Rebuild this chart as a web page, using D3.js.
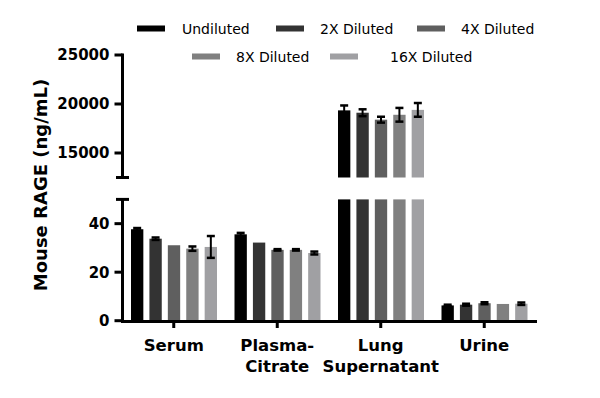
<!DOCTYPE html>
<html>
<head>
<meta charset="utf-8">
<script src="https://cdn.jsdelivr.net/npm/d3@7"></script>
<style>
  body { margin: 0; background: #fff; }
  svg { font-family: "DejaVu Sans", sans-serif; }
</style>
</head>
<body>
<div id="chart"></div>
<script>
'use strict';

var categories = ['Serum', 'Plasma-Citrate', 'Lung Supernatant', 'Urine'];
var categoryLines = [['Serum'], ['Plasma-', 'Citrate'], ['Lung', 'Supernatant'], ['Urine']];
var seriesNames = ['Undiluted', '2X Diluted', '4X Diluted', '8X Diluted', '16X Diluted'];
var seriesColors = ['#000000', '#333333', '#5f5f5f', '#808080', '#a0a0a3'];

var undiluted = [37.7, 35.6, 19350, 6.3];
var diluted2x = [33.8, 32.2, 19110, 6.6];
var diluted4x = [31.1, 29.2, 18400, 7.2];
var diluted8x = [29.7, 29.2, 18900, 6.9];
var diluted16x = [30.4, 27.9, 19400, 7.0];

var undilutedErr = [0.5, 0.6, 500, 0.3];
var diluted2xErr = [0.5, 0, 350, 0.4];
var diluted4xErr = [0, 0.3, 300, 0.4];
var diluted8xErr = [0.9, 0.3, 700, 0];
var diluted16xErr = [4.5, 0.6, 700, 0.5];

var lowTicks = [0, 20, 40];
var highTicks = [15000, 20000, 25000];

var seriesValues = [undiluted, diluted2x, diluted4x, diluted8x, diluted16x];
var seriesErrors = [undilutedErr, diluted2xErr, diluted4xErr, diluted8xErr, diluted16xErr];

var width = 600, height = 398;
var axisX = 122.5;

var svg = d3.select('#chart').append('svg')
	.attr('width', width)
	.attr('height', height);

// scales: one x band per category, sub-bands per dilution, broken y axis in two parts
var x = d3.scaleBand().domain(categories).range([122, 536]);
var xs = d3.scaleBand().domain(seriesNames).range([9, 95]).paddingInner(0.33);
var yLow = d3.scaleLinear().domain([0, 50]).range([320.7, 199.4]);
var yHigh = d3.scaleLinear().domain([12500, 25000]).range([177.5, 55]);

var points = [];
seriesNames.forEach(function (name, s) {
	categories.forEach(function (cat, c) {
		points.push({ series: name, color: seriesColors[s], cat: cat, value: seriesValues[s][c], err: seriesErrors[s][c] });
	});
});

function barX(d) { return x(d.cat) + xs(d.series); }

var bars = svg.append('g');
// bottom segment
bars.selectAll('rect.low').data(points).enter().append('rect')
	.attr('class', 'low')
	.attr('x', barX)
	.attr('width', xs.bandwidth())
	.attr('y', function (d) { return yLow(Math.min(d.value, 50)); })
	.attr('height', function (d) { return yLow(0) - yLow(Math.min(d.value, 50)); })
	.attr('fill', function (d) { return d.color; });
// top segment
var tall = points.filter(function (d) { return d.value > 12500; });
bars.selectAll('rect.high').data(tall).enter().append('rect')
	.attr('class', 'high')
	.attr('x', barX)
	.attr('width', xs.bandwidth())
	.attr('y', function (d) { return yHigh(d.value); })
	.attr('height', function (d) { return yHigh(12500) - yHigh(d.value); })
	.attr('fill', function (d) { return d.color; });

// error bars (skipped where the error is too small to show)
function yOf(d, v) { return d.value > 12500 ? yHigh(v) : yLow(v); }
var errs = svg.append('g').attr('stroke', '#000').attr('stroke-width', 2);
points.filter(function (d) { return d.err > 0; }).forEach(function (d) {
	var cx = barX(d) + xs.bandwidth() / 2;
	var y1 = yOf(d, d.value - d.err), y2 = yOf(d, d.value + d.err);
	errs.append('line').attr('x1', cx).attr('x2', cx).attr('y1', y1).attr('y2', y2);
	errs.append('line').attr('x1', cx - 4).attr('x2', cx + 4).attr('y1', y1).attr('y2', y1).attr('stroke-width', 2.5);
	errs.append('line').attr('x1', cx - 4).attr('x2', cx + 4).attr('y1', y2).attr('y2', y2).attr('stroke-width', 2.5);
});

// y axes
function drawYAxis(scale, ticks, top, bottom) {
	var g = svg.append('g');
	g.append('line').attr('x1', axisX).attr('x2', axisX).attr('y1', top).attr('y2', bottom)
		.attr('stroke', '#000').attr('stroke-width', 3);
	g.selectAll('line.tick').data(ticks).enter().append('line')
		.attr('x1', axisX - 8).attr('x2', axisX)
		.attr('y1', function (d) { return scale(d); })
		.attr('y2', function (d) { return scale(d); })
		.attr('stroke', '#000').attr('stroke-width', 3);
	g.selectAll('text').data(ticks).enter().append('text')
		.attr('x', axisX - 13)
		.attr('y', function (d) { return scale(d); })
		.attr('dy', '0.36em')
		.attr('text-anchor', 'end')
		.attr('font-size', 15)
		.attr('font-weight', 'bold')
		.text(function (d) { return d; });
	return g;
}
drawYAxis(yLow, lowTicks, yLow(50), yLow(0) + 1.5);
drawYAxis(yHigh, highTicks, yHigh(25000) - 1.5, yHigh(12500));
// break caps
[yLow(50), yHigh(12500)].forEach(function (yy) {
	svg.append('line').attr('x1', axisX - 6.5).attr('x2', axisX + 6.5).attr('y1', yy).attr('y2', yy)
		.attr('stroke', '#000').attr('stroke-width', 3);
});

// x axis
var xg = svg.append('g');
xg.append('line').attr('x1', axisX - 1.5).attr('x2', 537).attr('y1', 321.5).attr('y2', 321.5)
	.attr('stroke', '#000').attr('stroke-width', 3);
xg.selectAll('line.tick').data(categories).enter().append('line')
	.attr('x1', function (d) { return x(d) + x.bandwidth() / 2; })
	.attr('x2', function (d) { return x(d) + x.bandwidth() / 2; })
	.attr('y1', 321.5).attr('y2', 328)
	.attr('stroke', '#000').attr('stroke-width', 3);
categories.forEach(function (cat, i) {
	var t = xg.append('text')
		.attr('text-anchor', 'middle')
		.attr('font-size', 16.5)
		.attr('font-weight', 'bold');
	categoryLines[i].forEach(function (line, j) {
		t.append('tspan')
			.attr('x', x(cat) + x.bandwidth() / 2)
			.attr('y', 350.5 + j * 21.5)
			.text(line);
	});
});

// y title
svg.append('text')
	.attr('transform', 'translate(47,185) rotate(-90)')
	.attr('text-anchor', 'middle')
	.attr('font-size', 18)
	.attr('font-weight', 'bold')
	.text('Mouse RAGE (ng/mL)');

// legend
var legendPos = [[137, 28.5], [276, 28.5], [417, 28.5], [192, 56.5], [330, 56.5]];
var textOffset = [45, 44, 44, 44, 60];
var legend = svg.append('g');
seriesNames.forEach(function (name, i) {
	var p = legendPos[i];
	legend.append('rect').attr('x', p[0]).attr('y', p[1] - 3).attr('width', 28).attr('height', 6)
		.attr('fill', seriesColors[i]);
	legend.append('text').attr('x', p[0] + textOffset[i]).attr('y', p[1]).attr('dy', '0.36em')
		.attr('font-size', 14).text(name);
});
</script>
</body>
</html>
